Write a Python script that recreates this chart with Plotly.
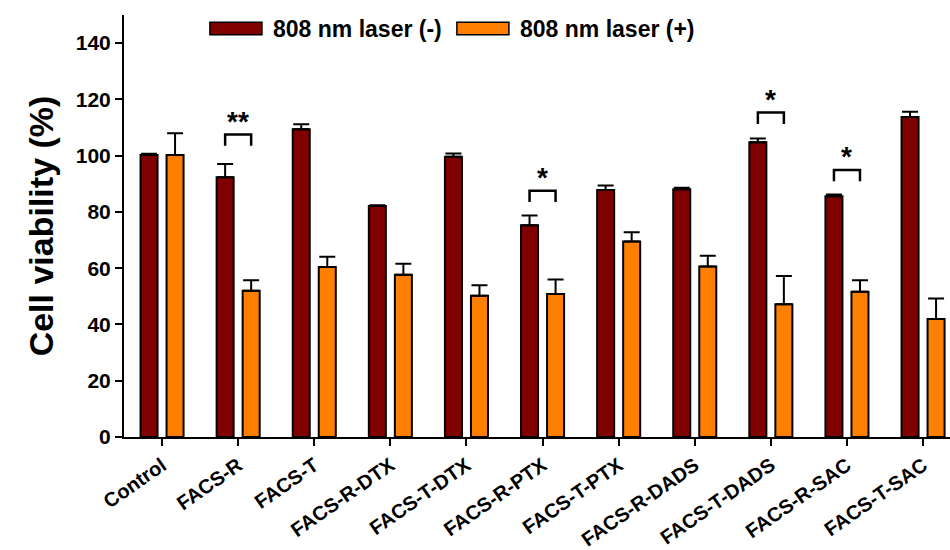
import plotly.graph_objects as go

categories = ["Control", "FACS-R", "FACS-T", "FACS-R-DTX", "FACS-T-DTX", "FACS-R-PTX",
              "FACS-T-PTX", "FACS-R-DADS", "FACS-T-DADS", "FACS-R-SAC", "FACS-T-SAC"]
laser_off = [100.2, 92.3, 109.4, 82.1, 99.6, 75.3, 87.8, 88.1, 104.8, 85.6, 113.7]
laser_off_err = [0.5, 4.7, 1.8, 0.3, 1.2, 3.4, 1.6, 0.5, 1.3, 0.6, 1.9]
laser_on = [100.2, 52.0, 60.4, 57.7, 50.2, 50.8, 69.5, 60.6, 47.2, 51.6, 41.9]
laser_on_err = [7.8, 3.7, 3.7, 3.9, 3.7, 5.2, 3.3, 3.8, 10.0, 4.1, 7.3]
sig_index = [1, 5, 8, 9]
sig_labels = ["**", "*", "*", "*"]
sig_heights = [107.5, 87.5, 115.3, 94.9]
y_ticks = [0, 20, 40, 60, 80, 100, 120, 140]
series_names = ["808 nm laser (-)", "808 nm laser (+)"]

C_OFF = "#800000"
C_ON = "#FF8000"
FONT = "Liberation Sans, Arial, sans-serif"
x_idx = list(range(len(categories)))

fig = go.Figure()
for name, vals, errs, col in [(series_names[0], laser_off, laser_off_err, C_OFF),
                              (series_names[1], laser_on, laser_on_err, C_ON)]:
    fig.add_trace(go.Bar(
        x=x_idx, y=vals, name=name,
        marker=dict(color=col, line=dict(color="black", width=2)),
        error_y=dict(type="data", array=errs, arrayminus=[0] * len(errs), symmetric=False,
                     color="black", thickness=2, width=8),
        showlegend=False,
    ))

bargap = 0.316
half = (1 - bargap) / 4  # offset of each bar centre from group centre
leg = 4.0
for i, lab, h in zip(sig_index, sig_labels, sig_heights):
    x0, x1 = i - half, i + half
    fig.add_shape(type="path", xref="x", yref="y",
                  path=f"M {x0},{h - leg} L {x0},{h} L {x1},{h} L {x1},{h - leg}",
                  line=dict(color="black", width=2.5))
    fig.add_annotation(x=i, y=h, xref="x", yref="y", text="<b>" + lab + "</b>", showarrow=False,
                       yanchor="bottom", yshift=-4,
                       font=dict(family=FONT, size=28, color="black"))

# custom legend with wide swatches
legend_items = [(0.104, C_OFF, series_names[0]), (0.403, C_ON, series_names[1])]
for x0, col, name in legend_items:
    fig.add_shape(type="rect", xref="paper", yref="paper",
                  x0=x0, x1=x0 + 0.063, y0=0.953, y1=0.983,
                  line=dict(color="black", width=1.5), fillcolor=col)
    fig.add_annotation(x=x0 + 0.074, y=0.968, xref="paper", yref="paper",
                       text="<b>" + name + "</b>", showarrow=False,
                       xanchor="left", yanchor="middle",
                       font=dict(family=FONT, size=23, color="black"))

fig.update_layout(
    width=950, height=550,
    margin=dict(l=124, r=0, t=15, b=113),
    plot_bgcolor="white", paper_bgcolor="white",
    barmode="group", bargap=bargap, bargroupgap=0.346,
    font=dict(family=FONT, color="black"),
    xaxis=dict(
        range=[-0.5, 10.354], tickmode="array", tickvals=x_idx,
        ticktext=["<b>" + c + "</b>" for c in categories],
        tickangle=-35, tickfont=dict(size=20, family=FONT, color="black"),
        showline=True, linecolor="black", linewidth=2,
        ticks="outside", ticklen=7, tickwidth=2, tickcolor="black",
        showgrid=False, zeroline=False, automargin=False,
    ),
    yaxis=dict(
        range=[0, 150], tickmode="array", tickvals=y_ticks,
        ticktext=["<b>%d</b>" % t for t in y_ticks],
        tickfont=dict(size=21, family=FONT, color="black"),
        showline=True, linecolor="black", linewidth=2,
        ticks="outside", ticklen=7, tickwidth=2, tickcolor="black",
        showgrid=False, zeroline=False, automargin=False,
        title=dict(text="<b>Cell viability (%)</b>", font=dict(size=34, family=FONT, color="black"),
                   standoff=12),
    ),
)

fig.write_html("out.html")
